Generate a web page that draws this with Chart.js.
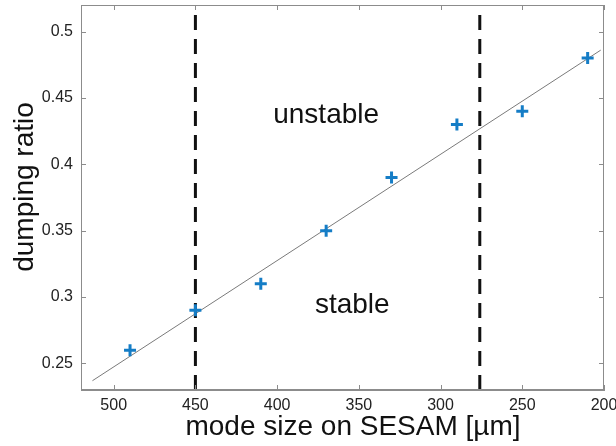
<!DOCTYPE html>
<html>
<head>
<meta charset="utf-8">
<script src="https://cdn.jsdelivr.net/npm/chart.js@4/dist/chart.umd.min.js"></script>
<style>
  body { margin: 0; background: #fff; }
  #wrap { width: 616px; height: 446px; }
</style>
</head>
<body>
<div id="wrap"><canvas id="dampingChart" width="616" height="446"></canvas></div>
<script>
// measured mode sizes (µm) and damping ratios
const modeSize = [490, 450, 410, 370, 330, 290, 250, 210];
const dampingRatio = [0.26, 0.29, 0.31, 0.35, 0.39, 0.43, 0.44, 0.48];

// linear fit end points
const fitX = [513, 202];
const fitY = [0.237, 0.486];

// stability boundaries
const boundaries = [450, 276];

const xTicks = [500, 450, 400, 350, 300, 250, 200];
const yTicks = [0.25, 0.3, 0.35, 0.4, 0.45, 0.5];
const yTickLabels = ['0.25', '0.3', '0.35', '0.4', '0.45', '0.5'];

const xRange = [200, 520];
const yRange = [0.23, 0.52];

const regionLabels = [
  { text: 'unstable', x: 370, y: 0.431 },
  { text: 'stable', x: 354, y: 0.288 }
];

const FONT = '"Liberation Sans", Arial, sans-serif';
const BOX = '#8c8c8c';

// frame around the plot with inward ticks, axis titles and region labels
const framePlugin = {
  id: 'frame',
  afterDraw(chart) {
    const { ctx, chartArea: a, scales } = chart;
    ctx.save();
    ctx.strokeStyle = BOX;
    ctx.lineWidth = 1;
    ctx.strokeRect(a.left + 0.5, a.top + 0.5, a.right - a.left - 1, a.bottom - a.top - 1);
    ctx.beginPath();
    xTicks.forEach(v => {
      const px = Math.round(scales.x.getPixelForValue(v)) + 0.5;
      ctx.moveTo(px, a.bottom); ctx.lineTo(px, a.bottom - 5);
      ctx.moveTo(px, a.top); ctx.lineTo(px, a.top + 5);
    });
    yTicks.forEach(v => {
      const py = Math.round(scales.y.getPixelForValue(v)) + 0.5;
      ctx.moveTo(a.left, py); ctx.lineTo(a.left + 5, py);
      ctx.moveTo(a.right, py); ctx.lineTo(a.right - 5, py);
    });
    ctx.stroke();

    ctx.fillStyle = '#111';
    ctx.textAlign = 'center';
    ctx.textBaseline = 'alphabetic';
    ctx.font = '28px ' + FONT;
    regionLabels.forEach(l => {
      ctx.fillText(l.text, scales.x.getPixelForValue(l.x), scales.y.getPixelForValue(l.y));
    });

    ctx.fillText('mode size on SESAM [µm]', 353, 435);
    ctx.translate(33, 187);
    ctx.rotate(-Math.PI / 2);
    ctx.fillText('dumping ratio', 0, 0);
    ctx.restore();
  }
};

// keep label overflow from shrinking the plot area
const noOverflow = s => {
  s.paddingTop = 0; s.paddingBottom = 0; s.paddingLeft = 0; s.paddingRight = 0;
};

const boundarySets = boundaries.map(b => ({
  type: 'line',
  data: [{ x: b, y: yRange[0] }, { x: b, y: yRange[1] }],
  borderColor: '#111',
  borderWidth: 3,
  borderDash: [15, 9],
  pointRadius: 0,
  order: 2
}));

new Chart(document.getElementById('dampingChart'), {
  type: 'scatter',
  data: {
    datasets: [
      {
        type: 'line',
        data: fitX.map((x, i) => ({ x, y: fitY[i] })),
        borderColor: '#7a7a7a',
        borderWidth: 1,
        pointRadius: 0,
        order: 3
      },
      ...boundarySets,
      {
        data: modeSize.map((x, i) => ({ x, y: dampingRatio[i] })),
        pointStyle: 'cross',
        pointRadius: 6,
        pointBorderWidth: 3,
        borderColor: '#157dc6',
        backgroundColor: '#157dc6',
        order: 1
      }
    ]
  },
  options: {
    responsive: false,
    animation: false,
    layout: { autoPadding: false, padding: { top: 5, right: 12, left: 0, bottom: 0 } },
    plugins: { legend: { display: false }, tooltip: { enabled: false } },
    scales: {
      x: {
        type: 'linear',
        reverse: true,
        min: xRange[0],
        max: xRange[1],
        afterBuildTicks: s => { s.ticks = xTicks.map(v => ({ value: v })); },
        afterFit: s => { s.height = 56; noOverflow(s); },
        grid: { drawOnChartArea: false, drawTicks: false },
        border: { color: BOX },
        ticks: { padding: 6, color: '#222', font: { family: FONT, size: 16 } }
      },
      y: {
        type: 'linear',
        min: yRange[0],
        max: yRange[1],
        afterBuildTicks: s => { s.ticks = yTicks.map(v => ({ value: v })); },
        afterFit: s => { s.width = 81; noOverflow(s); },
        grid: { drawOnChartArea: false, drawTicks: false },
        border: { color: BOX },
        ticks: {
          padding: 8,
          color: '#222',
          font: { family: FONT, size: 16 },
          callback: (v, i) => yTickLabels[i]
        }
      }
    }
  },
  plugins: [framePlugin]
});
</script>
</body>
</html>
